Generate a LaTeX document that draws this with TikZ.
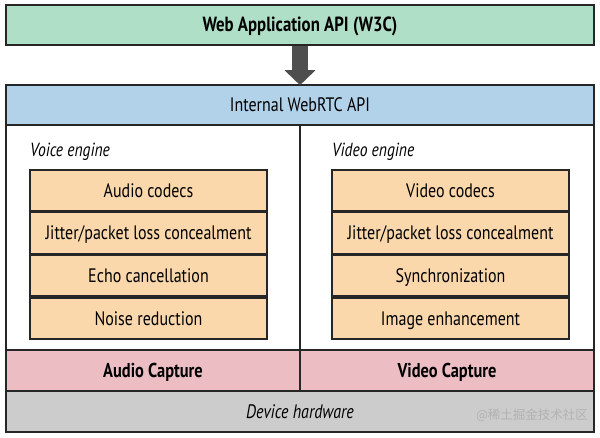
\documentclass[tikz,border=0pt]{standalone}
\usepackage{fontspec}
\setmainfont{PT Sans}[FakeStretch=0.82]
\newfontfamily\cjkfont{Noto Sans CJK SC}
\usetikzlibrary{arrows.meta,positioning}

\definecolor{webgreen}{RGB}{176,223,200}
\definecolor{apiblue}{RGB}{178,210,234}
\definecolor{engorange}{RGB}{251,216,172}
\definecolor{capturepink}{RGB}{236,190,196}
\definecolor{hwgray}{RGB}{204,204,204}
\definecolor{arrowgray}{RGB}{78,78,78}

\begin{document}
\begin{tikzpicture}[x=1pt,y=-1pt,
    layer/.style={draw=black!85,line width=1.6pt,rectangle,inner sep=0pt,
      minimum width=588pt,minimum height=40pt,text height=13.5pt,text depth=0pt,
      font=\fontsize{19.5}{22}\selectfont},
    panel/.style={draw=black!85,line width=1.6pt,rectangle,inner sep=0pt,
      fill=white,minimum width=294pt,minimum height=225pt},
    cell/.style={draw=black!85,line width=1.6pt,rectangle,inner sep=0pt,fill=engorange,
      minimum width=237pt,minimum height=41pt,text height=13.5pt,text depth=0pt,
      font=\fontsize{19.5}{22}\selectfont},
    capture/.style={draw=black!85,line width=1.6pt,rectangle,inner sep=0pt,fill=capturepink,
      minimum width=294pt,minimum height=41pt,text height=13.5pt,text depth=0pt,
      font=\bfseries\fontsize{20}{23}\selectfont},
    enginelbl/.style={anchor=west,inner sep=0pt,font=\itshape\fontsize{19}{22}\selectfont}]
  \useasboundingbox[fill=white] (0,0) rectangle (600,437);

  % top of the stack
  \node[layer,fill=webgreen,font=\bfseries\fontsize{20.5}{23}\selectfont] (web) at (300,25) {Web Application API (W3C)};
  \node[layer,fill=apiblue] (api) at (300,105) {Internal WebRTC API};
  \draw[arrowgray,line width=16pt,-{Triangle[width=30pt,length=15pt]}]
    (web.south) -- ([yshift=-1pt]api.north);

  % engines
  \node[panel] (voice) at (153,237.5) {};
  \node[panel] (video) at (447,237.5) {};
  \node[enginelbl] (voicelbl) at (30,152) {Voice engine};
  \node[enginelbl] (videolbl) at (332,152) {Video engine};

  \node[cell] (acodec) at (148.5,190.5) {Audio codecs};
  \node[cell,below=0pt of acodec] (ajitter) {Jitter/packet loss concealment};
  \node[cell,below=0pt of ajitter] (echo) {Echo cancellation};
  \node[cell,below=0pt of echo] (noise) {Noise reduction};

  \node[cell] (vcodec) at (450.5,190.5) {Video codecs};
  \node[cell,below=0pt of vcodec] (vjitter) {Jitter/packet loss concealment};
  \node[cell,below=0pt of vjitter] (sync) {Synchronization};
  \node[cell,below=0pt of sync] (image) {Image enhancement};

  % capture and hardware
  \node[capture] (acapture) at (153,370.5) {Audio Capture};
  \node[capture] (vcapture) at (447,370.5) {Video Capture};
  \node[layer,fill=hwgray,minimum height=41pt,font=\itshape\fontsize{19.5}{22}\selectfont] (hw) at (300,411.5) {Device hardware};
  \node[text=black!30,font=\cjkfont\fontsize{12.5}{14}\selectfont] (mark) at (532,415) {@稀土掘金技术社区};
\end{tikzpicture}
\end{document}
